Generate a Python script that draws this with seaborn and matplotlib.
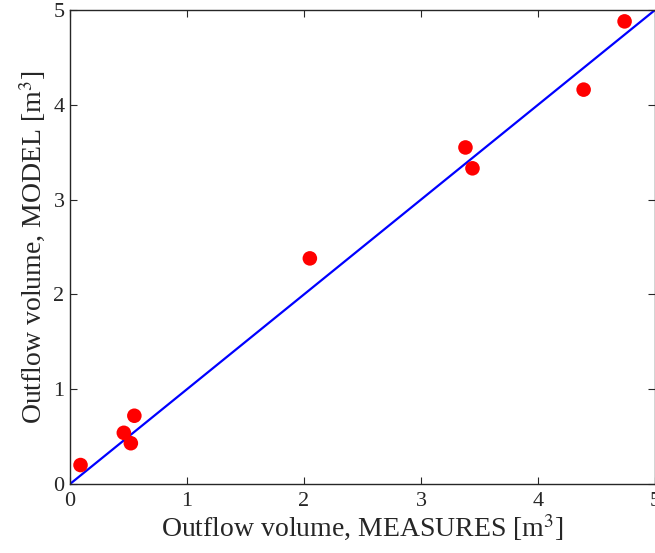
import numpy as np
import pandas as pd
import seaborn as sns
import matplotlib
matplotlib.use("Agg")
import matplotlib.pyplot as plt

# measured vs modelled outflow volumes [m3]
measures = [0.09, 0.46, 0.52, 0.55, 2.05, 3.38, 3.44, 4.39, 4.74]
model = [0.20, 0.54, 0.43, 0.72, 2.38, 3.55, 3.33, 4.16, 4.88]
line_x = [0, 5]
line_y = [0, 5]

df = pd.DataFrame({"measures": measures, "model": model})
df_line = pd.DataFrame({"x": line_x, "y": line_y})

sns.set_style("ticks", {"xtick.direction": "in", "ytick.direction": "in"})
plt.rcParams["font.family"] = ["Liberation Serif", "DejaVu Serif"]
plt.rcParams["mathtext.fontset"] = "stix"

fig = plt.figure(figsize=(6.55, 5.53), dpi=100)
ax = fig.add_axes([70 / 655, 69 / 553, 1 - 70 / 655, 474 / 553])

sns.lineplot(data=df_line, x="x", y="y", color="#0000ff", linewidth=1.6, ax=ax)
sns.scatterplot(data=df, x="measures", y="model", color="#ff0000", s=110,
                edgecolor="none", ax=ax, zorder=3)

ax.set_xlim(0, 5)
ax.set_ylim(0, 5)
ax.set_xticks([0, 1, 2, 3, 4, 5])
ax.set_yticks([0, 1, 2, 3, 4, 5])
ax.tick_params(labelsize=16, length=5, width=0.8, top=True, right=True)
ax.tick_params(axis="x", pad=6)
ax.tick_params(axis="y", pad=4)
for s in ax.spines.values():
    s.set_visible(True)
    s.set_linewidth(1.0)

ax.set_xlabel("Outflow volume, MEASURES [m$^3$]", fontsize=20, labelpad=1)
ax.set_ylabel("Outflow volume, MODEL [m$^3$]", fontsize=20, labelpad=4)

fig.savefig("out.png", dpi=100)
